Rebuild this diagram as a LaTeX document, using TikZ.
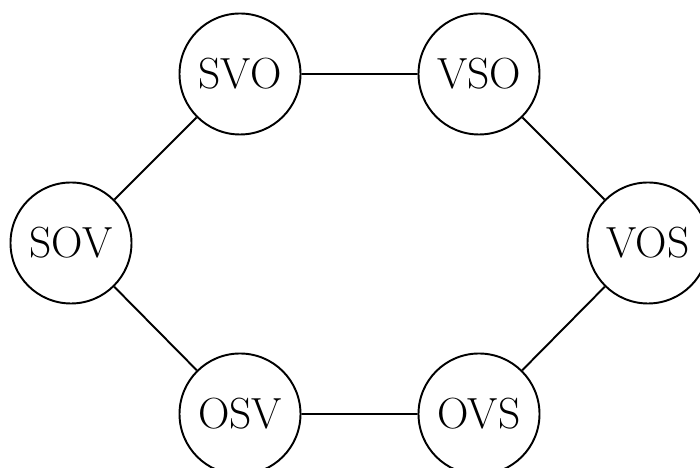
\documentclass[tikz,border=0pt]{standalone}
\usepackage{xcolor}
\usepackage{tikz}
\usetikzlibrary{positioning}

\begin{document}
\begin{tikzpicture}[
    order/.style={draw, circle, line width=1.1pt, minimum size=2.42cm, inner sep=0pt,
                  font=\fontsize{24.8}{29}\selectfont}
  ]
      \useasboundingbox (0,0) rectangle (14,9.36);
      % vertices
      \node[order] (SVO) at (4.80,7.88) {SVO};
      \node[order] (VSO) at (9.58,7.88) {VSO};
      \node[order] (SOV) at (1.42,4.50) {SOV};
      \node[order] (VOS) at (12.96,4.50) {VOS};
      \node[order] (OSV) at (4.80,1.08) {OSV};
      \node[order] (OVS) at (9.58,1.08) {OVS};
      % draw all six edges
      \draw[line width=1.1pt] (SVO) -- (VSO) -- (VOS) -- (OVS) -- (OSV) -- (SOV) -- (SVO);
\end{tikzpicture}
\end{document}
